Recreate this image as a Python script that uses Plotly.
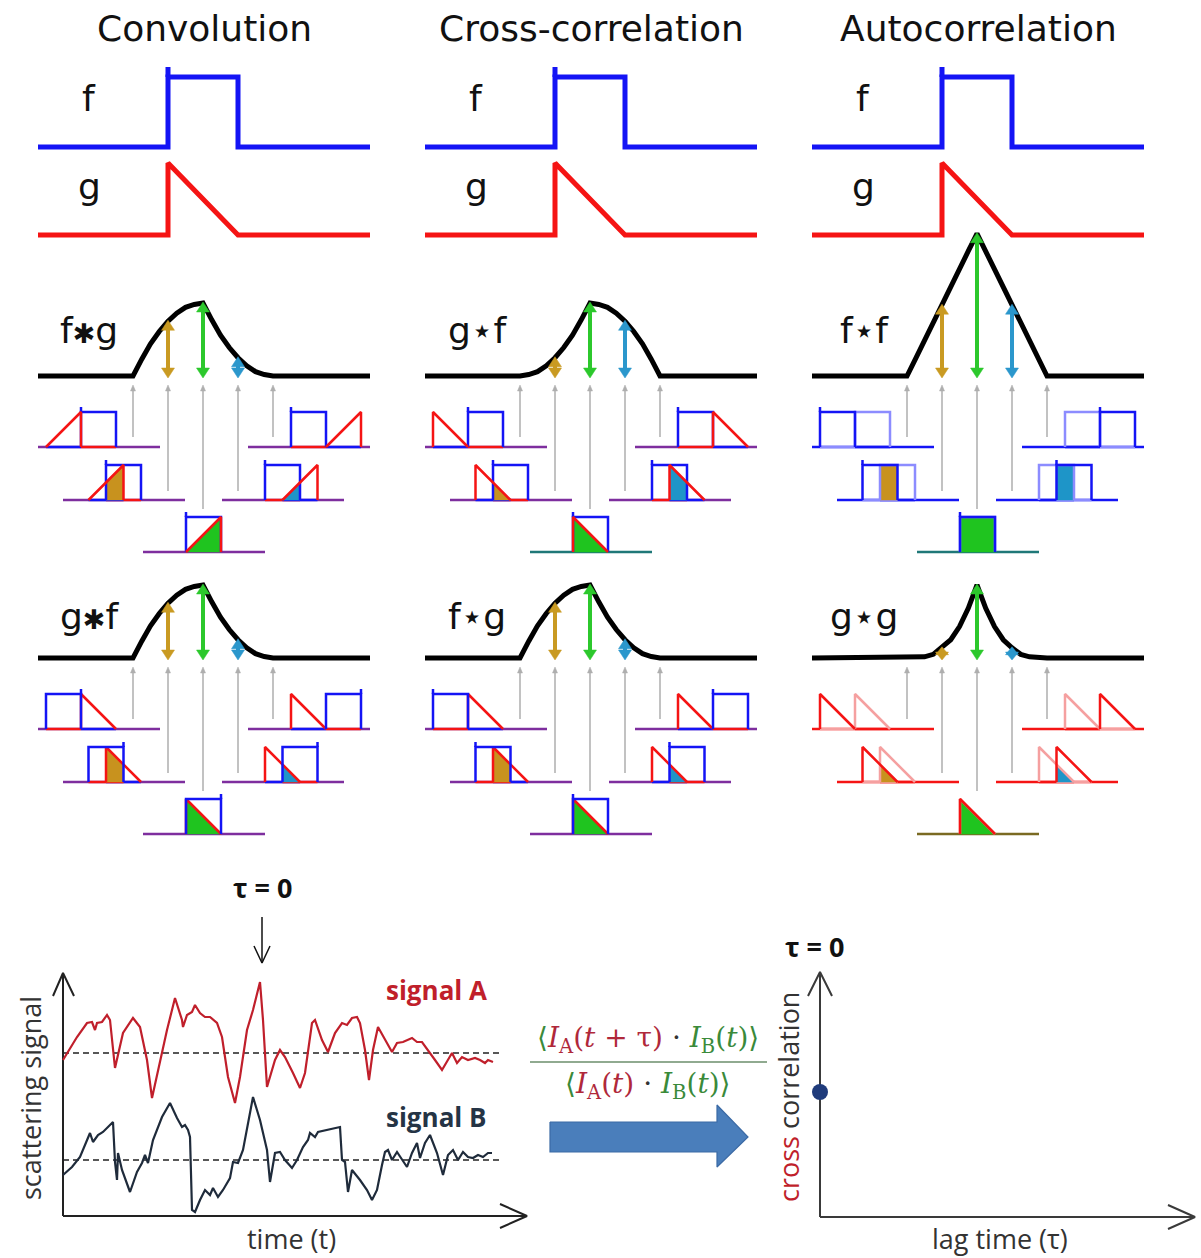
import numpy as np
import plotly.graph_objects as go

# ---------------------------------------------------------------- data
TITLES = ["Convolution", "Cross-correlation", "Autocorrelation"]
INPUT_LABELS = ["f", "g"]
ROW1_LABELS = ["f✱g", "g⋆f", "f⋆f"]
ROW2_LABELS = ["g✱f", "f⋆g", "g⋆g"]

# input functions in unit time / unit amplitude
F_T = [0, 0, 1, 1]      # rectangular pulse f
F_V = [0, 1, 1, 0]
G_T = [0, 0, 1]         # decaying ramp g
G_V = [0, 1, 0]

# result curves, lag in pulse widths, amplitude normalised
LAG_U = [0, 0.125, 0.25, 0.375, 0.5, 0.625, 0.75, 0.875, 1.0,
         1.125, 1.25, 1.375, 1.5, 1.625, 1.75, 1.875, 2.0]
CONV_FG = [0, 0.23, 0.44, 0.61, 0.75, 0.86, 0.94, 0.98, 1.0,
           0.77, 0.56, 0.39, 0.25, 0.14, 0.06, 0.02, 0]
XCORR_GF = [0, 0.02, 0.06, 0.14, 0.25, 0.39, 0.56, 0.77, 1.0,
            0.98, 0.94, 0.86, 0.75, 0.61, 0.44, 0.23, 0]
AUTO_FF = [0, 0.24, 0.49, 0.73, 0.97, 1.22, 1.46, 1.71, 1.95,
           1.71, 1.46, 1.22, 0.97, 0.73, 0.49, 0.24, 0]
CONV_GF = [0, 0.23, 0.44, 0.61, 0.75, 0.86, 0.94, 0.98, 1.0,
           0.77, 0.56, 0.39, 0.25, 0.14, 0.06, 0.02, 0]
XCORR_FG = [0, 0.23, 0.44, 0.61, 0.75, 0.86, 0.94, 0.98, 1.0,
            0.77, 0.56, 0.39, 0.25, 0.14, 0.06, 0.02, 0]
AUTO_GG = [0, 0.002, 0.016, 0.05, 0.14, 0.25, 0.43, 0.68, 1.0,
           0.68, 0.43, 0.25, 0.14, 0.05, 0.016, 0.002, 0]
SLIDE_STEPS = [-2, -1, 0, 1, 2]

# measured scattering signals: time (t) and amplitude
SIG_A_T = [0, 14, 24, 29, 32, 34, 39, 44, 47, 52, 60, 70, 77, 84, 89, 95, 104, 112,
           119, 120, 124, 129, 132, 137, 142, 147, 154, 159, 165, 172, 177, 184, 190,
           197, 200, 204, 212, 217, 222, 230, 237, 242, 249, 252, 259, 265, 272, 279,
           284, 289, 294, 297, 302, 306, 310, 315, 322, 329, 334, 340, 349, 354, 359,
           365, 372, 379, 385, 389, 394, 399, 405, 412, 417, 422, 425, 430]
SIG_A_V = [156, 179, 193, 194, 186, 193, 194, 201, 196, 148, 183, 198, 189, 156, 118,
           146, 186, 218, 196, 189, 201, 204, 211, 203, 199, 199, 193, 179, 139, 113,
           139, 186, 206, 234, 196, 129, 156, 166, 159, 143, 128, 143, 193, 196, 176,
           164, 183, 193, 191, 198, 199, 193, 166, 136, 166, 189, 176, 164, 173, 174,
           178, 174, 174, 166, 156, 146, 156, 163, 153, 159, 156, 158, 156, 153, 156, 154]
SIG_B_T = [0, 9, 17, 24, 27, 30, 35, 40, 45, 50, 52, 54, 55, 59, 67, 74, 79, 82, 85,
           90, 99, 107, 114, 119, 122, 125, 127, 129, 132, 137, 142, 147, 150, 155,
           160, 167, 170, 175, 180, 190, 197, 204, 207, 212, 217, 222, 229, 234, 240,
           245, 247, 252, 255, 264, 270, 277, 279, 282, 285, 289, 297, 304, 309, 314,
           319, 322, 325, 329, 334, 339, 344, 349, 354, 357, 362, 367, 374, 380, 385,
           390, 395, 400, 405, 410, 415, 420, 425, 429]
SIG_B_V = [41, 49, 59, 76, 83, 74, 81, 84, 89, 94, 54, 36, 63, 46, 24, 44, 53, 61, 53,
           76, 99, 113, 98, 89, 91, 86, 79, 6, 4, 16, 26, 21, 28, 19, 26, 38, 54, 53,
           66, 119, 96, 66, 34, 63, 64, 56, 48, 56, 69, 76, 83, 79, 84, 86, 88, 89, 56,
           54, 24, 46, 36, 26, 16, 26, 51, 64, 66, 56, 64, 56, 49, 63, 73, 58, 73, 81,
           63, 41, 61, 66, 56, 64, 59, 58, 61, 59, 63, 63]
MEAN_A = 163
MEAN_B = 56
CC_TAU = [0]
CC_VAL = [125]

# ---------------------------------------------------------------- layout / style
W_PX, H_PX = 1201, 1258
SANS = "DejaVu Sans"
BOT = "Open Sans"
SERIF = "DejaVu Serif"
BLUE = "#1414F5"
RED = "#F51414"
LBLUE = "#8C8CFF"
LRED = "#F5A0A0"
PURPLE = "#7E2E9E"
TEAL = "#1F7878"
OLIVE = "#7A6A22"
GOLD = "#C99A22"
GREEN = "#2CC82C"
CYAN = "#2B97CC"
FILL = {-1: "#C8921E", 0: "#1FC41F", 1: "#1E95C8"}
ARROWC = {-1: GOLD, 0: GREEN, 1: CYAN}
GRAY = "#AEAEAE"

COLS = [0, 387, 774]
BASE_L, BASE_R = 38, 370
PULSE_X0, PULSE_W = 168, 70
F_BASE, F_H = 147, 70
G_BASE, G_H = 235, 72
BIG_LW = 5
ROW_BASE = [376, 658]
CURVE_X0, UNIT, VSCALE = 133, 70, 73
DIAG_LEFT = [38, 63, 143, 222, 248]
DIAG_DY = [71, 124, 176, 124, 71]
GRAY_GAP = [10, 9, 43, 9, 10]
DIAG_W, DIAG_OFF, SW, SH, STEP, SLW = 122, 43, 35, 35, 17.5, 2.5

fig = go.Figure()


def add_line(xs, ys, color, width, dash=None):
    fig.add_trace(go.Scatter(x=list(xs), y=list(ys), mode="lines",
                             line=dict(color=color, width=width, dash=dash),
                             hoverinfo="skip", showlegend=False))


def add_poly(xs, ys, color, line_color=None, lw=0.5):
    fig.add_trace(go.Scatter(x=list(xs), y=list(ys), mode="lines", fill="toself",
                             fillcolor=color,
                             line=dict(color=line_color or color, width=lw),
                             hoverinfo="skip", showlegend=False))


def add_text(x, y, s, size, color="#111111", family=SANS, angle=0, bold=False):
    fig.add_annotation(x=x, y=y, xref="x", yref="y", text=s, showarrow=False,
                       font=dict(size=size, color=color, family=family,
                                 weight="bold" if bold else "normal"),
                       textangle=angle, xanchor="center", yanchor="middle")


def template(kind, flip):
    T, V = (F_T, F_V) if kind == "F" else (G_T, G_V)
    T = np.array(T, float)
    V = np.array(V, float)
    if flip:
        T = (1 - T)[::-1]
        V = V[::-1]
    return T, V


def draw_func(kind, flip, x0, w, base, h, color, lw, tick, left=None, right=None):
    T, V = template(kind, flip)
    xs = list(x0 + T * w)
    ys = list(base - V * h)
    if left is not None:
        xs = [left] + xs + [right]
        ys = [base] + ys + [base]
    add_line(xs, ys, color, lw)
    if kind == "F" and tick > 0:
        tx = x0 + (w if flip else 0)
        add_line([tx, tx], [base - h, base - h - tick], color, lw)


def tri_head(x, y_tip, direction, hw, hl, color):
    yb = y_tip + hl * direction
    add_poly([x - hw, x, x + hw, x - hw], [yb, y_tip, yb, yb], color, color, 0.5)


# ---------------------------------------------------------------- top rows: f and g
for c, dx in enumerate(COLS):
    add_text(204 + dx, 28, TITLES[c], 36)
    add_text(89 + dx, 98, INPUT_LABELS[0], 36)
    add_text(89 + dx, 186, INPUT_LABELS[1], 36)
    draw_func("F", False, PULSE_X0 + dx, PULSE_W, F_BASE, F_H, BLUE, BIG_LW, 10,
              BASE_L + dx, BASE_R + dx)
    draw_func("G", False, PULSE_X0 + dx, PULSE_W, G_BASE, G_H, RED, BIG_LW, 0,
              BASE_L + dx, BASE_R + dx)

# ---------------------------------------------------------------- result panels
PANELS = [
    # row, col, label, curve, fixed (kind, flip, color), moving (kind, flip, color), base, centre base
    (0, 0, ROW1_LABELS[0], CONV_FG, ("F", False, BLUE), ("G", True, RED), PURPLE, PURPLE),
    (0, 1, ROW1_LABELS[1], XCORR_GF, ("F", False, BLUE), ("G", False, RED), PURPLE, TEAL),
    (0, 2, ROW1_LABELS[2], AUTO_FF, ("F", False, LBLUE), ("F", False, BLUE), BLUE, TEAL),
    (1, 0, ROW2_LABELS[0], CONV_GF, ("G", False, RED), ("F", True, BLUE), PURPLE, PURPLE),
    (1, 1, ROW2_LABELS[1], XCORR_FG, ("G", False, RED), ("F", False, BLUE), PURPLE, PURPLE),
    (1, 2, ROW2_LABELS[2], AUTO_GG, ("G", False, LRED), ("G", False, RED), RED, OLIVE),
]
LABEL_Y = [330, 616]
LABEL_X = [89, 477, 864]

for row, col, label, curve, fixed, moving, bcol, ccol in PANELS:
    dx = COLS[col]
    rb = ROW_BASE[row]
    lab = label.replace("✱", "<span style='font-size:27px'>✱</span>")
    add_text(LABEL_X[col], LABEL_Y[row], lab, 36)
    # result curve
    xs = [BASE_L + dx] + [CURVE_X0 + dx + u * UNIT for u in LAG_U] + [BASE_R + dx]
    ys = [rb] + [rb - v * VSCALE for v in curve] + [rb]
    add_line(xs, ys, "#000000", BIG_LW)

    for j, k in enumerate(SLIDE_STEPS):
        u = 1 + 0.5 * k
        gx = CURVE_X0 + dx + u * UNIT
        left = DIAG_LEFT[j] + dx
        db = rb + DIAG_DY[j]
        # gray connector
        top = rb + 9
        add_line([gx, gx], [top + 4, db - GRAY_GAP[j]], GRAY, 1.5)
        tri_head(gx, top, 1, 2.5, 6, GRAY)
        # coloured double arrow
        if k in ARROWC:
            val = curve[LAG_U.index(u)]
            ytop = rb - val * VSCALE - 1
            ybot = rb + 2
            hl = 10
            if ybot - ytop > 2 * hl:
                add_line([gx, gx], [ytop + hl - 1, ybot - hl + 1], ARROWC[k], 4)
            hh = min(hl, (ybot - ytop) * 0.6)
            tri_head(gx, ytop, 1, 6.5, hh, ARROWC[k])
            tri_head(gx, ybot, -1, 6.5, hh, ARROWC[k])

        # sliding diagram
        fx0 = left + DIAG_OFF
        mx0 = fx0 + k * STEP
        add_line([left, left + DIAG_W], [db, db], ccol if k == 0 else bcol, SLW)
        if k != 0:
            add_line([fx0, fx0 + SW], [db, db], moving[2], SLW)
            add_line([mx0, mx0 + SW], [db, db], fixed[2], SLW)
        if k in FILL:
            lo = max(fx0, mx0)
            hi = min(fx0, mx0) + SW
            xx = np.linspace(lo + 0.01, hi - 0.01, 30)
            Tf, Vf = template(fixed[0], fixed[1])
            Tm, Vm = template(moving[0], moving[1])
            vv = np.minimum(np.interp((xx - fx0) / SW, Tf, Vf),
                            np.interp((xx - mx0) / SW, Tm, Vm))
            add_poly([lo] + list(xx) + [hi, lo], [db] + list(db - vv * SH) + [db, db],
                     FILL[k], FILL[k], 0.5)
        draw_func(fixed[0], fixed[1], fx0, SW, db, SH, fixed[2], SLW,
                  5 if fixed[2] == BLUE else 0)
        draw_func(moving[0], moving[1], mx0, SW, db, SH, moving[2], SLW, 5)

# ---------------------------------------------------------------- bottom left: signals
OX, OY = 63, 1216
AX = "#222222"
add_line([OX, OX], [OY, 973], AX, 2)
add_line([OX, 527], [OY, OY], AX, 2)
add_line([53, OX, 74], [996, 973, 996], AX, 2)
add_line([500, 527, 500], [1204, OY, 1228], AX, 2)
add_line([OX, 503], [OY - MEAN_A, OY - MEAN_A], "#222222", 1.3, dash="6px,4px")
add_line([OX, 503], [OY - MEAN_B, OY - MEAN_B], "#222222", 1.3, dash="6px,4px")
add_line([OX + t for t in SIG_A_T], [OY - v for v in SIG_A_V], "#C01F2B", 2.2)
add_line([OX + t for t in SIG_B_T], [OY - v for v in SIG_B_V], "#1F2B3B", 2.2)
add_text(262, 887, "τ = 0", 27, "#111111", BOT, bold=True)
add_line([262, 262], [917, 963], "#111111", 1.5)
add_line([254, 262, 270], [946, 963, 946], "#111111", 1.5)
add_text(436, 990, "signal A", 26, "#C01F2B", BOT, bold=True)
add_text(436, 1117, "signal B", 26, "#253445", BOT, bold=True)
add_text(30, 1098, "scattering signal", 27, "#333333", BOT, angle=-90)
add_text(291, 1238, "time (t)", 27, "#333333", BOT)

# ---------------------------------------------------------------- formula & arrow
RC, GC = "#B0283A", "#3A8A3A"
num = (f"<span style='color:{GC}'>⟨</span><span style='color:{RC}'><i>I</i><sub>A</sub>(<i>t</i> + τ)</span>"
       f"<span style='color:#333'> · </span><span style='color:{GC}'><i>I</i><sub>B</sub>(<i>t</i>)⟩</span>")
den = (f"<span style='color:{GC}'>⟨</span><span style='color:{RC}'><i>I</i><sub>A</sub>(<i>t</i>)</span>"
       f"<span style='color:#333'> · </span><span style='color:{GC}'><i>I</i><sub>B</sub>(<i>t</i>)⟩</span>")
add_text(648, 1039, num, 28, "#333333", SERIF)
add_text(648, 1085, den, 28, "#333333", SERIF)
add_line([530, 767], [1062, 1062], "#6B8E6B", 1.6)
add_poly([550, 717, 717, 748, 717, 717, 550, 550],
         [1122, 1122, 1105, 1137, 1167, 1152, 1152, 1122], "#4A7EBB", "#3B6AA5", 1.2)

# ---------------------------------------------------------------- bottom right: cross correlation
RX, RY = 820, 1217
RA = "#3A3A3A"
add_line([RX, RX], [RY, 972], RA, 2)
add_line([RX, 1195], [RY, RY], RA, 2)
add_line([808, RX, 832], [996, 972, 996], RA, 2)
add_line([1168, 1195, 1168], [1205, RY, 1229], RA, 2)
fig.add_trace(go.Scatter(x=[RX + t for t in CC_TAU], y=[RY - v for v in CC_VAL],
                         mode="markers", marker=dict(size=16, color="#1F3B7B"),
                         hoverinfo="skip", showlegend=False))
add_text(814, 946, "τ = 0", 27, "#111111", BOT, bold=True)
add_text(788, 1097, "<span style='color:#C01F2B'>cross</span> correlation", 27,
         "#333333", BOT, angle=-90)
add_text(1000, 1238, "lag time (τ)", 27, "#333333", BOT)

# ---------------------------------------------------------------- canvas
fig.update_layout(
    width=W_PX, height=H_PX, margin=dict(l=0, r=0, t=0, b=0),
    paper_bgcolor="white", plot_bgcolor="white",
    xaxis=dict(range=[0, W_PX], visible=False, fixedrange=True),
    yaxis=dict(range=[H_PX, 0], visible=False, fixedrange=True),
    showlegend=False,
)
fig.write_html("out.html", config={"displayModeBar": False},
               post_script="document.body.style.margin='0px';")
